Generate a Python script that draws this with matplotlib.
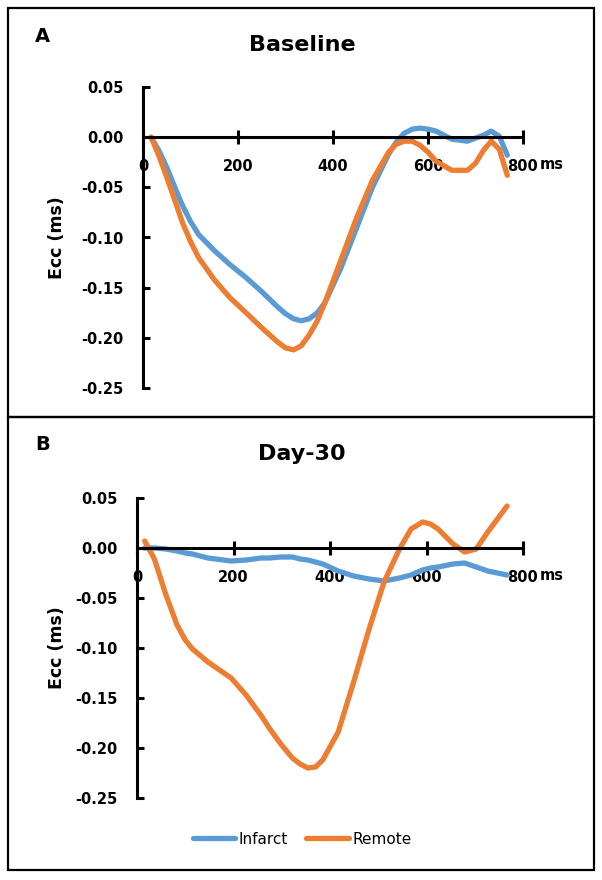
import matplotlib.pyplot as plt
from matplotlib.patches import Rectangle
from matplotlib.ticker import FixedLocator, FuncFormatter

plt.rcParams['font.family'] = ['DejaVu Sans']
plt.rcParams['axes.unicode_minus'] = False

# Baseline (panel A)
time_a = [17, 33, 50, 67, 83, 100, 117, 150, 183, 217, 250, 283, 300, 317, 333, 350, 367, 383,
          417, 450, 483, 517, 533, 550, 567, 583, 600, 617, 650, 683, 700, 717, 733, 750, 767]
infarct_a = [0.000, -0.013, -0.030, -0.050, -0.068, -0.084, -0.097, -0.113, -0.127, -0.140,
             -0.154, -0.169, -0.176, -0.181, -0.183, -0.181, -0.175, -0.165, -0.130, -0.090,
             -0.050, -0.017, -0.005, 0.004, 0.008, 0.009, 0.008, 0.006, -0.002, -0.004,
             -0.001, 0.002, 0.006, 0.001, -0.018]
remote_a = [0.000, -0.018, -0.040, -0.063, -0.085, -0.104, -0.120, -0.142, -0.160, -0.175,
            -0.190, -0.204, -0.210, -0.212, -0.208, -0.197, -0.183, -0.165, -0.122, -0.080,
            -0.043, -0.015, -0.007, -0.004, -0.004, -0.008, -0.015, -0.024, -0.033, -0.033,
            -0.026, -0.013, -0.004, -0.012, -0.038]

# Day-30 (panel B)
time_b = [16, 36, 60, 83, 100, 115, 147, 195, 226, 258, 274, 298, 322, 338, 354, 370, 385,
          417, 449, 481, 512, 544, 568, 592, 608, 624, 655, 679, 703, 727, 767]
infarct_b = [0.000, 0.000, -0.001, -0.003, -0.005, -0.006, -0.010, -0.013, -0.012, -0.010,
             -0.010, -0.009, -0.009, -0.011, -0.012, -0.014, -0.016, -0.023, -0.028, -0.031,
             -0.033, -0.030, -0.027, -0.022, -0.020, -0.019, -0.016, -0.015, -0.019, -0.023,
             -0.027]
remote_b = [0.007, -0.011, -0.047, -0.077, -0.092, -0.101, -0.114, -0.130, -0.147, -0.168,
            -0.180, -0.196, -0.210, -0.216, -0.220, -0.219, -0.212, -0.184, -0.134, -0.081,
            -0.034, -0.001, 0.019, 0.026, 0.024, 0.019, 0.004, -0.004, -0.001, 0.016, 0.042]

x_ticks = [0, 200, 400, 600, 800]
y_ticks = [0.05, 0.00, -0.05, -0.10, -0.15, -0.20, -0.25]

blue = '#5B9BD5'
orange = '#ED7D31'
W, H = 602, 880

fig = plt.figure(figsize=(6.02, 8.8), dpi=100)

# panel frames
fig.patches.append(Rectangle((8 / W, 1 - 417 / H), 586 / W, 409 / H,
                             transform=fig.transFigure, fill=False, ec='black', lw=1.6))
fig.patches.append(Rectangle((8 / W, 1 - 870 / H), 586 / W, 453 / H,
                             transform=fig.transFigure, fill=False, ec='black', lw=1.6))


def setup(ax, title, letter, title_y, letter_y, label_y):
    ax.set_xlim(0, 800)
    ax.set_ylim(-0.25, 0.05)
    for s in ['top', 'right']:
        ax.spines[s].set_visible(False)
    ax.spines['bottom'].set_position(('data', 0))
    ax.spines['left'].set_linewidth(2.2)
    ax.spines['bottom'].set_linewidth(2.2)
    ax.xaxis.set_major_locator(FixedLocator(x_ticks))
    ax.yaxis.set_major_locator(FixedLocator(y_ticks))
    ax.yaxis.set_major_formatter(FuncFormatter(lambda v, p: f'{v:.2f}'))
    ax.tick_params(axis='x', direction='inout', length=10, width=2.2, pad=11,
                   labelsize=10.5)
    ax.tick_params(axis='y', direction='in', length=5, width=2.2, pad=14,
                   labelsize=10.5)
    for lab in ax.get_xticklabels() + ax.get_yticklabels():
        lab.set_fontweight('bold')
    ax.annotate('ms', xy=(800, 0), xytext=(12, -19.5), textcoords='offset points',
                fontsize=10.5, fontweight='bold', ha='left', va='center')
    ax.patch.set_visible(False)
    fig.text(57 / W, 1 - label_y / H, 'Ecc (ms)', rotation=90, ha='center', va='center',
             fontsize=12.5, fontweight='bold')
    fig.text(302 / W, 1 - title_y / H, title, ha='center', va='center',
             fontsize=16, fontweight='bold')
    fig.text(35 / W, 1 - letter_y / H, letter, ha='left', va='center',
             fontsize=14, fontweight='bold')


ax_a = fig.add_axes([143 / W, 1 - 388 / H, 380 / W, 301 / H])
ax_a.plot(time_a, infarct_a, color=blue, lw=3.8, solid_joinstyle='round',
          solid_capstyle='round', label='Infarct')
ax_a.plot(time_a, remote_a, color=orange, lw=3.8, solid_joinstyle='round',
          solid_capstyle='round', label='Remote')
setup(ax_a, 'Baseline', 'A', 45, 37, 238)

ax_b = fig.add_axes([137 / W, 1 - 798 / H, 386 / W, 300 / H])
ax_b.plot(time_b, infarct_b, color=blue, lw=3.8, solid_joinstyle='round',
          solid_capstyle='round', label='Infarct')
ax_b.plot(time_b, remote_b, color=orange, lw=3.8, solid_joinstyle='round',
          solid_capstyle='round', label='Remote')
setup(ax_b, 'Day-30', 'B', 454, 444, 648)

fig.legend(handles=ax_b.get_lines(), loc='center', bbox_to_anchor=(302 / W, 1 - 839 / H),
           ncol=2, frameon=False, fontsize=11, handlelength=2.8, handletextpad=0.2,
           columnspacing=1.2)

fig.savefig('out.png', dpi=100)
